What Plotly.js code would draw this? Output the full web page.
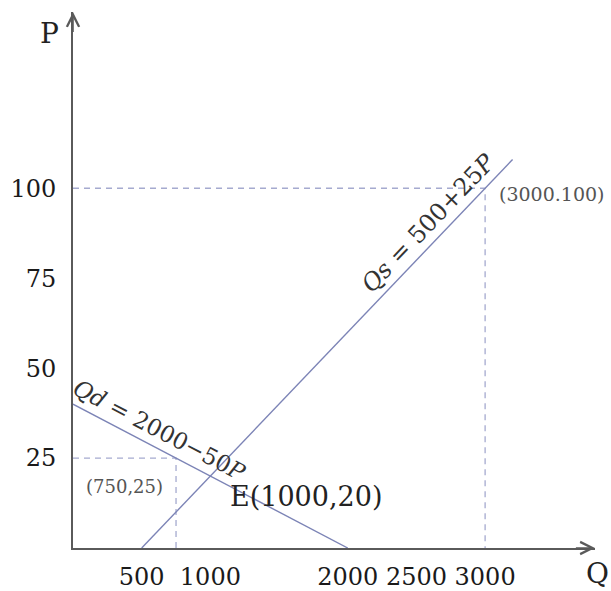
<!DOCTYPE html>
<html><head><meta charset="utf-8">
<script src="https://cdn.plot.ly/plotly-3.0.1.min.js"></script>
<style>html,body{margin:0;padding:0;background:#fff}#chart{width:611px;height:591px}</style>
</head><body><div id="chart"></div>
<script>
// Data (Q, P)
const demandQ = [0, 2000];
const demandP = [40, 0];
const supplyQ = [500, 3200];
const supplyP = [0, 108];
const guide25Q = [0, 750, 750];
const guide25P = [25, 25, 0];
const guide100Q = [0, 3000, 3000];
const guide100P = [100, 100, 0];
const xTicks = [500, 1000, 2000, 2500, 3000];
const yTicks = [25, 50, 75, 100];
const eqQ = 1000, eqP = 20;
const xMax = 3800, yMax = 149;

const W = 611, H = 591;
const M = {l: 73, r: 16, t: 12, b: 43};
const plotW = W - M.l - M.r, plotH = H - M.t - M.b;
const pxX = plotW / xMax, pxY = plotH / yMax;
const demandAngle = Math.atan((demandP[0] - demandP[1]) * pxY / ((demandQ[1] - demandQ[0]) * pxX)) * 180 / Math.PI;
const supplyAngle = Math.atan((supplyP[1] - supplyP[0]) * pxY / ((supplyQ[1] - supplyQ[0]) * pxX)) * 180 / Math.PI;

const lineCol = '#7c84b6', dashCol = '#a5aacf', axisCol = '#5a5a5a';
const serif = '"DejaVu Serif", "Liberation Serif", serif';

const traces = [
  {x: guide25Q, y: guide25P, mode: 'lines', line: {color: dashCol, width: 1.3, dash: '6px,5px'}, cliponaxis: false, hoverinfo: 'skip'},
  {x: guide100Q, y: guide100P, mode: 'lines', line: {color: dashCol, width: 1.3, dash: '6px,5px'}, cliponaxis: false, hoverinfo: 'skip'},
  {x: demandQ, y: demandP, mode: 'lines', line: {color: lineCol, width: 1.4}, cliponaxis: false},
  {x: supplyQ, y: supplyP, mode: 'lines', line: {color: lineCol, width: 1.4}, cliponaxis: false}
];

const dMidQ = 570, dMidP = demandP[0] - (demandP[0] - demandP[1]) * dMidQ / (demandQ[1] - demandQ[0]);
const sMidP = 87, sMidQ = supplyQ[0] + (supplyQ[1] - supplyQ[0]) * sMidP / (supplyP[1] - supplyP[0]);

const annotations = [
  {x: xMax, y: 0, ax: xMax - 150, ay: 0, xref: 'x', yref: 'y', axref: 'x', ayref: 'y', text: '', showarrow: true, arrowhead: 5, arrowsize: 1.5, arrowwidth: 1.6, arrowcolor: axisCol, standoff: 0},
  {x: 0, y: yMax, ax: 0, ay: yMax - 6, xref: 'x', yref: 'y', axref: 'x', ayref: 'y', text: '', showarrow: true, arrowhead: 5, arrowsize: 1.5, arrowwidth: 1.6, arrowcolor: axisCol, standoff: 0},
  {xref: 'paper', yref: 'paper', xanchor: 'center', yanchor: 'middle', x: (49 - M.l) / plotW, y: (H - M.b - 34) / plotH, text: 'P', showarrow: false, font: {family: serif, size: 28, color: '#222'}},
  {xref: 'paper', yref: 'paper', xanchor: 'center', yanchor: 'middle', x: (597 - M.l) / plotW, y: -(573 - (H - M.b)) / plotH, text: 'Q', showarrow: false, font: {family: serif, size: 28, color: '#222'}},
  {x: eqQ, y: eqP, xref: 'x', yref: 'y', text: 'E(1000,20)', showarrow: false, xanchor: 'left', yanchor: 'middle', xshift: 18, yshift: -20, font: {family: serif, size: 27, color: '#222'}},
  {x: guide25Q[1] / 2, y: 17, xref: 'x', yref: 'y', text: '(750,25)', showarrow: false, font: {family: serif, size: 18, color: '#555'}},
  {x: guide100Q[1], y: guide100P[0], xref: 'x', yref: 'y', text: '(3000.100)', showarrow: false, xanchor: 'left', yanchor: 'middle', xshift: 12, yshift: -6, font: {family: serif, size: 19, color: '#555'}},
  {x: dMidQ, y: dMidP, xref: 'x', yref: 'y', text: '<i>Qd</i> = 2000−50<i>P</i>', showarrow: false, textangle: demandAngle, xshift: 8, yshift: 15, font: {family: serif, size: 23, color: '#333'}},
  {x: sMidQ, y: sMidP, xref: 'x', yref: 'y', text: '<i>Qs</i> = 500+25<i>P</i>', showarrow: false, textangle: -supplyAngle, xshift: -12, yshift: 12, font: {family: serif, size: 24, color: '#333'}}
];

const layout = {
  width: W, height: H,
  margin: M,
  paper_bgcolor: '#fff', plot_bgcolor: '#fff',
  showlegend: false,
  xaxis: {range: [0, xMax], tickvals: xTicks, ticktext: xTicks.map(String), showgrid: false, zeroline: false,
          showline: true, linecolor: axisCol, linewidth: 2, ticks: 'outside', ticklen: 6, tickcolor: 'rgba(0,0,0,0)',
          tickfont: {family: serif, size: 24, color: '#1a1a1a'}, fixedrange: true},
  yaxis: {range: [0, yMax], tickvals: yTicks, ticktext: yTicks.map(String), showgrid: false, zeroline: false,
          showline: true, linecolor: axisCol, linewidth: 2, ticks: 'outside', ticklen: 10, tickcolor: 'rgba(0,0,0,0)',
          tickfont: {family: serif, size: 24, color: '#1a1a1a'}, fixedrange: true},
  annotations: annotations
};

Plotly.newPlot('chart', traces, layout, {displayModeBar: false, staticPlot: true});
</script>
</body></html>
